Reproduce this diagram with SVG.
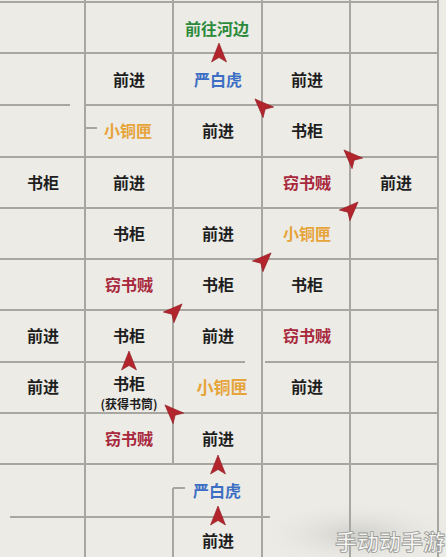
<svg xmlns="http://www.w3.org/2000/svg" width="446" height="557" viewBox="0 0 446 557">
<defs>
<style>
.grid line{stroke:#a7a6a0;stroke-width:2}
text{font-family:"Noto Sans CJK SC","DejaVu Sans",sans-serif;font-size:16px;font-weight:700;text-anchor:middle;dominant-baseline:central}
.k{fill:#1e1e1e}
.b{fill:#3c6fc4}
.o{fill:#e6a43a}
.r{fill:#a8283c}
.g{fill:#2b8a3c}
.arr{fill:#b3252d;stroke:#8e1a20;stroke-width:0.6}
</style>
<path id="ar" d="M0,-10 L7.5,9 L0,4.5 L-7.5,9 Z"/>
<radialGradient id="wm" cx="0.5" cy="0.6" r="0.6">
<stop offset="0" stop-color="#cfcfcb"/>
<stop offset="1" stop-color="#ecebe6" stop-opacity="0"/>
</radialGradient>
</defs>
<rect width="446" height="557" fill="#ecebe6"/>
<rect x="270" y="500" width="176" height="57" fill="url(#wm)"/>
<g id="grid" class="grid">
<line x1="0" y1="2" x2="438" y2="2"/>
<line x1="0" y1="53" x2="438" y2="53"/>
<line x1="0" y1="105" x2="70" y2="105"/>
<line x1="85" y1="105" x2="438" y2="105"/>
<line x1="0" y1="157" x2="438" y2="157"/>
<line x1="0" y1="208" x2="438" y2="208"/>
<line x1="0" y1="259" x2="438" y2="259"/>
<line x1="0" y1="310" x2="438" y2="310"/>
<line x1="0" y1="362" x2="245" y2="362"/>
<line x1="265" y1="362" x2="438" y2="362"/>
<line x1="0" y1="413" x2="438" y2="413"/>
<line x1="0" y1="464" x2="438" y2="464"/>
<line x1="10" y1="517" x2="270" y2="517"/>
<line x1="85" y1="128" x2="97" y2="128"/>
<line x1="173" y1="488" x2="185" y2="488"/>
<line x1="85" y1="0" x2="85" y2="557"/>
<line x1="173" y1="0" x2="173" y2="464"/>
<line x1="173" y1="488" x2="173" y2="557"/>
<line x1="262" y1="0" x2="262" y2="557"/>
<line x1="350" y1="0" x2="350" y2="557"/>
<line x1="438" y1="0" x2="438" y2="557"/>
</g>
<g id="cells">
<g id="r0"><text class="g" x="217" y="28">前往河边</text></g>
<g id="r1"><text class="k" x="129" y="79">前进</text><text class="b" x="218" y="79">严白虎</text><text class="k" x="307" y="79">前进</text></g>
<g id="r2"><text class="o" x="128" y="130">小铜匣</text><text class="k" x="218" y="130">前进</text><text class="k" x="307" y="130">书柜</text></g>
<g id="r3"><text class="k" x="43" y="182">书柜</text><text class="k" x="129" y="182">前进</text><text class="r" x="307" y="182">窃书贼</text><text class="k" x="396" y="182">前进</text></g>
<g id="r4"><text class="k" x="129" y="233">书柜</text><text class="k" x="218" y="233">前进</text><text class="o" x="307" y="233">小铜匣</text></g>
<g id="r5"><text class="r" x="129" y="284">窃书贼</text><text class="k" x="218" y="284">书柜</text><text class="k" x="307" y="284">书柜</text></g>
<g id="r6"><text class="k" x="43" y="335">前进</text><text class="k" x="129" y="335">书柜</text><text class="k" x="218" y="335">前进</text><text class="r" x="307" y="335">窃书贼</text></g>
<g id="r7"><text class="k" x="43" y="386">前进</text><text class="k" x="129" y="383">书柜</text><text class="k" x="129" y="403" style="font-size:12px">(获得书筒)</text><text class="o" x="222" y="386" style="font-size:17px">小铜匣</text><text class="k" x="307" y="386">前进</text></g>
<g id="r8"><text class="r" x="129" y="438">窃书贼</text><text class="k" x="218" y="438">前进</text></g>
<g id="r9"><text class="b" x="217" y="490">严白虎</text></g>
<g id="r10"><text class="k" x="218" y="540">前进</text></g>
</g>
<g id="connectors" class="arr">
<use href="#ar" transform="translate(219,53)"/>
<use href="#ar" transform="translate(262,106) rotate(-45)"/>
<use href="#ar" transform="translate(351,157) rotate(-45)"/>
<use href="#ar" transform="translate(351,209) rotate(45)"/>
<use href="#ar" transform="translate(264,260) rotate(45)"/>
<use href="#ar" transform="translate(175,311) rotate(45)"/>
<use href="#ar" transform="translate(129,361)"/>
<use href="#ar" transform="translate(172,412) rotate(-45)"/>
<use href="#ar" transform="translate(218,465)"/>
<use href="#ar" transform="translate(218,516)"/>
</g>
<text x="390" y="540" style="font-size:22px;fill:#f6f6f4;stroke:#9a9a96;stroke-width:0.8">手动动手游</text>
</svg>
